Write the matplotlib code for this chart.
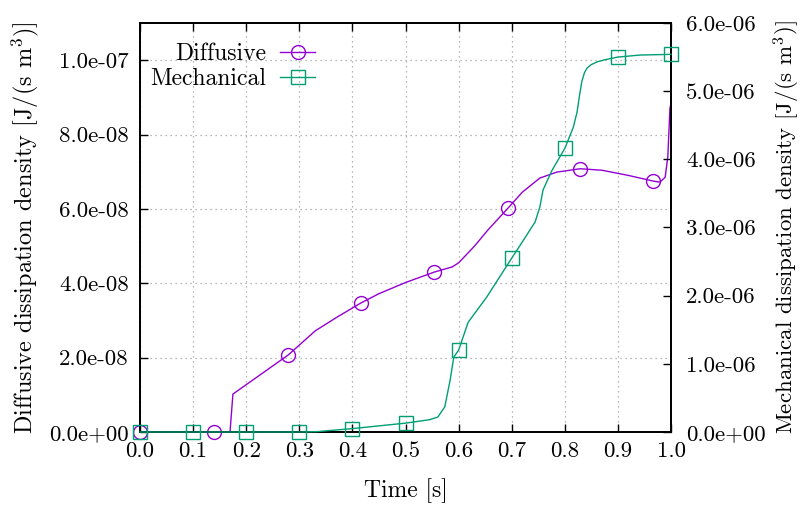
import numpy as np
import matplotlib
matplotlib.use('Agg')
import matplotlib.pyplot as plt

plt.rcParams['font.family'] = ['cmr10', 'DejaVu Serif']
plt.rcParams['mathtext.fontset'] = 'cm'
plt.rcParams['axes.unicode_minus'] = False

# Diffusive dissipation density [J/(s m^3)] vs time [s]
diff_t = [0.0, 0.139, 0.1695, 0.175, 0.279, 0.33, 0.37, 0.416, 0.45, 0.50,
          0.554, 0.588, 0.60, 0.63, 0.655, 0.693, 0.72, 0.753, 0.785, 0.829,
          0.87, 0.92, 0.966, 0.979, 0.989, 0.994, 0.998, 1.0]
diff_q = [0.0, 0.0, 0.0, 1.02e-8, 2.07e-8, 2.72e-8, 3.08e-8, 3.47e-8, 3.72e-8, 4.02e-8,
          4.30e-8, 4.44e-8, 4.55e-8, 5.0e-8, 5.43e-8, 6.02e-8, 6.45e-8, 6.83e-8, 6.99e-8, 7.08e-8,
          7.04e-8, 6.9e-8, 6.75e-8, 6.72e-8, 6.85e-8, 7.4e-8, 8.7e-8, 8.85e-8]
diff_marks = [0.0, 0.139, 0.279, 0.416, 0.554, 0.693, 0.829, 0.966]

# Mechanical dissipation density [J/(s m^3)] vs time [s]
mech_t = [0.0, 0.1, 0.2, 0.3, 0.333, 0.4, 0.5, 0.545, 0.561, 0.574, 0.584, 0.591,
          0.6, 0.618, 0.653, 0.7, 0.716, 0.744, 0.753, 0.759, 0.776, 0.8, 0.816,
          0.823, 0.828, 0.832, 0.837, 0.842, 0.85, 0.861, 0.875, 0.9, 0.942, 1.0]
mech_q = [0.0, 0.0, 0.0, 0.0, 0.005e-6, 0.05e-6, 0.13e-6, 0.18e-6, 0.22e-6, 0.37e-6, 0.76e-6, 1.10e-6,
          1.20e-6, 1.61e-6, 1.98e-6, 2.55e-6, 2.74e-6, 3.08e-6, 3.30e-6, 3.55e-6, 3.84e-6, 4.16e-6, 4.47e-6,
          4.69e-6, 4.95e-6, 5.14e-6, 5.27e-6, 5.34e-6, 5.39e-6, 5.43e-6, 5.46e-6, 5.50e-6, 5.53e-6, 5.54e-6]
mech_marks = [0.0, 0.1, 0.2, 0.3, 0.4, 0.5, 0.6, 0.7, 0.8, 0.9, 1.0]

x_ticks = [0.0, 0.1, 0.2, 0.3, 0.4, 0.5, 0.6, 0.7, 0.8, 0.9, 1.0]
y1_ticks = [0.0, 2e-8, 4e-8, 6e-8, 8e-8, 1e-7]
y2_ticks = [0.0, 1e-6, 2e-6, 3e-6, 4e-6, 5e-6, 6e-6]

purple = '#9400d3'
green = '#009e73'

fig = plt.figure(figsize=(8.05, 5.05), dpi=100)
ax = fig.add_axes([140 / 805, 73 / 505, 531 / 805, 409 / 505])
ax2 = ax.twinx()

diff_every = [i for i, t in enumerate(diff_t) if t in diff_marks]
mech_every = [i for i, t in enumerate(mech_t) if t in mech_marks]

l1, = ax.plot(diff_t, diff_q, color=purple, lw=1.0, marker='o', markersize=10,
              markerfacecolor='none', markeredgewidth=1.0, markevery=diff_every,
              clip_on=False, label='Diffusive', zorder=3)
l2, = ax2.plot(mech_t, mech_q, color=green, lw=1.0, marker='s', markersize=9.5,
               markerfacecolor='none', markeredgewidth=1.0, markevery=mech_every,
               clip_on=False, label='Mechanical', zorder=3)

ax.set_xlim(0, 1.0)
ax.set_ylim(0, 1.1e-7)
ax2.set_ylim(0, 6e-6)

ax.set_xticks(x_ticks)
ax.set_xticklabels([f'{v:.1f}' for v in x_ticks])
ax.set_yticks(y1_ticks)
ax.set_yticklabels([f'{v:.1e}' for v in y1_ticks])
ax2.set_yticks(y2_ticks)
ax2.set_yticklabels([f'{v:.1e}' for v in y2_ticks])

ax.tick_params(direction='in', length=6, width=1, labelsize=16.5, top=True, pad=7)
ax.tick_params(axis='y', pad=8)
ax2.tick_params(direction='in', length=6, width=1, labelsize=16.5, pad=11)

ax.grid(True, linestyle=(0, (1, 3)), color='#a0a0a0', lw=0.9)
for a in (ax, ax2):
    for s in a.spines.values():
        s.set_linewidth(1.3)

ax.set_xlabel('Time [s]', fontsize=17, labelpad=12)
ax.set_ylabel('Diffusive dissipation density [J/(s m$^{3}$)]', fontsize=17.5, labelpad=6)
ax2.set_ylabel('Mechanical dissipation density [J/(s m$^{3}$)]', fontsize=16.5, labelpad=4)

ax.legend(handles=[l1, l2], loc='upper left', bbox_to_anchor=(150 / 805, 1 - 43 / 505),
          bbox_transform=fig.transFigure, frameon=False, markerfirst=False,
          fontsize=17, handlelength=1.5, handletextpad=0.6, labelspacing=0.12,
          borderpad=0, borderaxespad=0)

fig.savefig('out.png', dpi=100)
